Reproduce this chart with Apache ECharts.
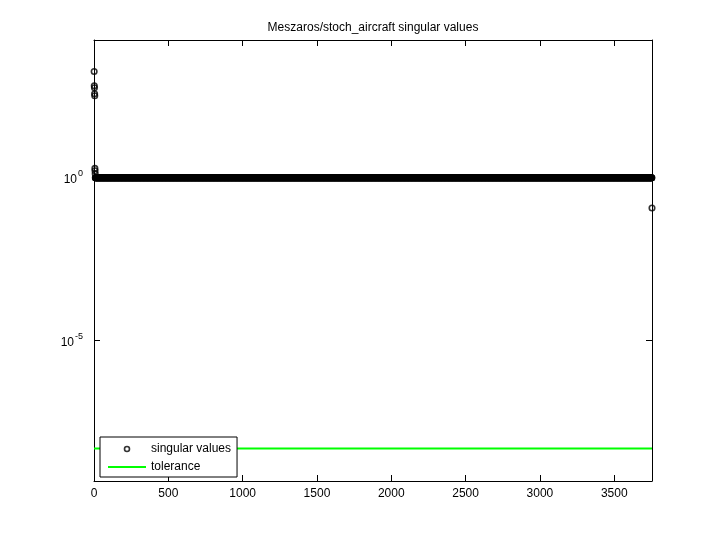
<!DOCTYPE html>
<html>
<head>
<meta charset="utf-8">
<title>Meszaros/stoch_aircraft singular values</title>
<script src="https://cdn.jsdelivr.net/npm/echarts@6/dist/echarts.min.js"></script>
<style>
  html, body { margin: 0; padding: 0; background: #fff; }
  #chart { width: 720px; height: 540px; }
</style>
</head>
<body>
<div id="chart"></div>
<script>
// values
const leadValues = [1800, 655, 569, 372, 323, 1.9, 1.6, 1.3]
const bandCounts = [3745]        // long flat run of singular values
const bandValues = [0.98]
const tailValues = [0.115]
const tolerance = 4.8e-9
const yLimits = [4.8e-10, 1.66e4]
const xLimits = [0, 3754]
const xTicks = [0, 500, 1000, 1500, 2000, 2500, 3000, 3500]
const yTickExponents = [-5, 0]

const FONT = 'Liberation Sans, Arial, Helvetica, sans-serif'

// build the singular value list from the runs
let singular = [...leadValues]
bandCounts.forEach((c, k) => {
  for (let i = 0; i < c; i++) singular.push(bandValues[k])
})
singular = singular.concat(tailValues)

// y axis works in log10 space
const svPoints = singular.map((v, i) => [i + 1, Math.log10(v)])
const tolPoints = [[xLimits[0], Math.log10(tolerance)], [xLimits[1], Math.log10(tolerance)]]
const yMin = Math.log10(yLimits[0])
const yMax = Math.log10(yLimits[1])

const chart = echarts.init(document.getElementById('chart'))

const tickStyle = { show: true, inside: true, length: 6, lineStyle: { color: '#000', width: 1 } }
const lineStyle = { show: true, onZero: false, lineStyle: { color: '#000', width: 1 } }

const option = {
  backgroundColor: '#fff',
  animation: false,
  textStyle: { fontFamily: FONT },
  title: {
    text: 'Meszaros/stoch_aircraft singular values',
    left: 368,
    top: 17,
    textAlign: 'center',
    textStyle: { fontSize: 12, fontWeight: 'normal', color: '#000', fontFamily: FONT }
  },
  grid: { left: 94, right: 68, top: 40, bottom: 59, containLabel: false },
  legend: {
    orient: 'vertical',
    left: 100,
    top: 437,
    padding: [6, 6, 4, 7],
    itemGap: 6,
    itemWidth: 38,
    itemHeight: 5,
    backgroundColor: '#fff',
    borderColor: '#000',
    borderWidth: 1,
    borderRadius: 0,
    textStyle: { fontSize: 12, color: '#000', fontFamily: FONT },
    data: [
      { name: 'singular values', icon: 'circle',
        itemStyle: { color: 'rgba(0,0,0,0)', borderColor: '#000', borderWidth: 1.6 } },
      { name: 'tolerance',
        itemStyle: { color: 'rgba(0,0,0,0)', borderColor: 'rgba(0,0,0,0)', borderWidth: 0, opacity: 0 } }
    ],
    z: 10
  },
  xAxis: [
    {
      type: 'value', position: 'bottom',
      min: xLimits[0], max: xLimits[1],
      axisLine: lineStyle, axisTick: { ...tickStyle, customValues: xTicks },
      axisLabel: { customValues: xTicks, color: '#000', fontSize: 12, margin: 7, fontFamily: FONT,
        formatter: v => String(v) },
      splitLine: { show: false }
    },
    {
      type: 'value', position: 'top',
      min: xLimits[0], max: xLimits[1],
      axisLine: lineStyle, axisTick: { ...tickStyle, customValues: xTicks },
      axisLabel: { show: false },
      splitLine: { show: false }
    }
  ],
  yAxis: [
    {
      type: 'value', position: 'left',
      min: yMin, max: yMax,
      axisLine: lineStyle, axisTick: { ...tickStyle, customValues: yTickExponents },
      axisLabel: {
        customValues: yTickExponents,
        margin: 11,
        color: '#000',
        formatter: v => `{b|10}{e|${v}}`,
        rich: {
          b: { fontSize: 12, color: '#000', fontFamily: FONT, padding: [4, 0, 0, 0] },
          e: { fontSize: 9, color: '#000', fontFamily: FONT, padding: [0, 0, 7, 1] }
        }
      },
      splitLine: { show: false }
    },
    {
      type: 'value', position: 'right',
      min: yMin, max: yMax,
      axisLine: lineStyle, axisTick: { ...tickStyle, customValues: yTickExponents },
      axisLabel: { show: false },
      splitLine: { show: false }
    }
  ],
  series: [
    {
      name: 'singular values',
      type: 'scatter',
      xAxisIndex: 0, yAxisIndex: 0,
      data: svPoints,
      symbol: 'circle',
      symbolSize: 5.5,
      large: false,
      clip: false,
      itemStyle: { color: 'rgba(0,0,0,0)', borderColor: '#000', borderWidth: 1.6 },
      emphasis: { disabled: true },
      z: 3
    },
    {
      name: 'tolerance',
      type: 'line',
      xAxisIndex: 0, yAxisIndex: 0,
      data: tolPoints,
      symbol: 'none',
      lineStyle: { color: '#00ff00', width: 2 },
      itemStyle: { color: '#00ff00' },
      z: 2
    }
  ]
}

chart.setOption(option)
</script>
</body>
</html>
